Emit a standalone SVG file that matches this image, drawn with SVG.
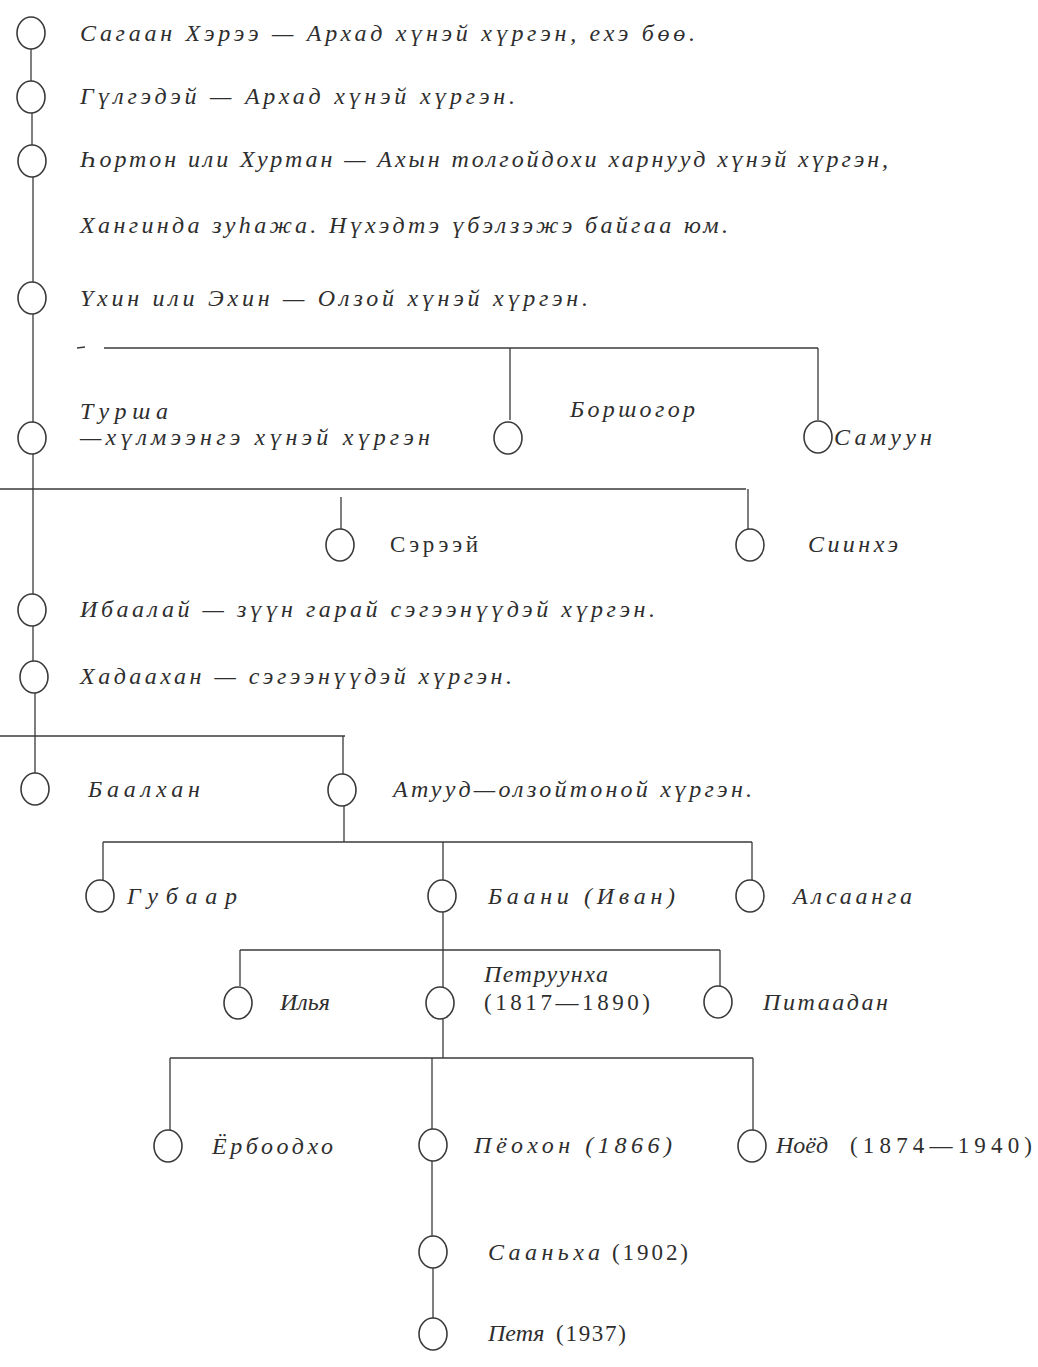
<svg xmlns="http://www.w3.org/2000/svg" width="1038" height="1367" viewBox="0 0 1038 1367">
<style>
.bg{fill:#ffffff}
.n{fill:none;stroke:#3a3a3a;stroke-width:1.6}
.c{fill:none;stroke:#3a3a3a;stroke-width:1.3}
.t{font-family:"Liberation Serif","DejaVu Serif",serif;font-style:italic;font-size:24px;fill:#2e2e2e}
.u{font-family:"Liberation Serif","DejaVu Serif",serif;font-style:normal;font-size:23px;fill:#2e2e2e}
</style>
<rect class="bg" x="0" y="0" width="1038" height="1367"/>
<g id="connectors">
<line class="c" x1="31" y1="49" x2="31" y2="81"/>
<line class="c" x1="32" y1="113" x2="32" y2="145"/>
<line class="c" x1="33" y1="177" x2="33" y2="282"/>
<line class="c" x1="33" y1="314" x2="33" y2="422"/>
<line class="c" x1="77" y1="348" x2="85" y2="347"/>
<line class="c" x1="104" y1="348" x2="818" y2="348"/>
<line class="c" x1="510" y1="348" x2="510" y2="420"/>
<line class="c" x1="818" y1="348" x2="818" y2="420"/>
<line class="c" x1="33" y1="454" x2="33" y2="594"/>
<line class="c" x1="0" y1="489" x2="746" y2="489"/>
<line class="c" x1="341" y1="497" x2="341" y2="529"/>
<line class="c" x1="748" y1="489" x2="748" y2="529"/>
<line class="c" x1="33" y1="626" x2="33" y2="661"/>
<line class="c" x1="35" y1="693" x2="35" y2="773"/>
<line class="c" x1="0" y1="736" x2="345" y2="736"/>
<line class="c" x1="343" y1="736" x2="343" y2="774"/>
<line class="c" x1="344" y1="806" x2="344" y2="842"/>
<line class="c" x1="103" y1="842" x2="752" y2="842"/>
<line class="c" x1="103" y1="842" x2="103" y2="880"/>
<line class="c" x1="443" y1="842" x2="443" y2="880"/>
<line class="c" x1="752" y1="842" x2="752" y2="880"/>
<line class="c" x1="443" y1="912" x2="443" y2="950"/>
<line class="c" x1="240" y1="950" x2="720" y2="950"/>
<line class="c" x1="240" y1="950" x2="240" y2="986"/>
<line class="c" x1="443" y1="950" x2="443" y2="987"/>
<line class="c" x1="720" y1="950" x2="720" y2="986"/>
<line class="c" x1="443" y1="1019" x2="443" y2="1058"/>
<line class="c" x1="170" y1="1058" x2="753" y2="1058"/>
<line class="c" x1="170" y1="1058" x2="170" y2="1130"/>
<line class="c" x1="432" y1="1058" x2="432" y2="1129"/>
<line class="c" x1="753" y1="1058" x2="753" y2="1130"/>
<line class="c" x1="432" y1="1161" x2="432" y2="1236"/>
<line class="c" x1="433" y1="1268" x2="433" y2="1318"/>
</g>
<g id="n1"><ellipse class="n" cx="31" cy="33" rx="14" ry="16"/><text class="t" x="80" y="41" textLength="615">Сагаан Хэрээ — Архад хүнэй хүргэн, ехэ бөө.</text></g>
<g id="n2"><ellipse class="n" cx="31" cy="97" rx="14" ry="16"/><text class="t" x="80" y="104" textLength="435">Гүлгэдэй — Архад хүнэй хүргэн.</text></g>
<g id="n3"><ellipse class="n" cx="32" cy="161" rx="14" ry="16"/><text class="t" x="80" y="167" textLength="808">Һортон или Хуртан — Ахын толгойдохи харнууд хүнэй хүргэн,</text><text class="t" x="80" y="233" textLength="648">Хангинда зуһажа. Нүхэдтэ үбэлзэжэ байгаа юм.</text></g>
<g id="n4"><ellipse class="n" cx="32" cy="298" rx="14" ry="16"/><text class="t" x="80" y="306" textLength="508">Үхин или Эхин — Олзой хүнэй хүргэн.</text></g>
<g id="n5"><ellipse class="n" cx="32" cy="438" rx="14" ry="16"/><text class="t" x="80" y="419" textLength="88">Турша</text><text class="t" x="80" y="445" textLength="350">—хүлмээнгэ хүнэй хүргэн</text></g>
<g id="n6"><ellipse class="n" cx="508" cy="438" rx="14" ry="16"/><text class="t" x="570" y="417" textLength="125">Боршогор</text></g>
<g id="n7"><ellipse class="n" cx="818" cy="437" rx="14" ry="16"/><text class="t" x="834" y="445" textLength="98">Самуун</text></g>
<g id="n8"><ellipse class="n" cx="340" cy="545" rx="14" ry="16"/><text class="u" x="390" y="552" textLength="88" fill="#555">Сэрээй</text></g>
<g id="n9"><ellipse class="n" cx="750" cy="545" rx="14" ry="16"/><text class="t" x="808" y="552" textLength="90">Сиинхэ</text></g>
<g id="n10"><ellipse class="n" cx="32" cy="610" rx="14" ry="16"/><text class="t" x="80" y="617" textLength="575">Ибаалай — зүүн гарай сэгээнүүдэй хүргэн.</text></g>
<g id="n11"><ellipse class="n" cx="34" cy="677" rx="14" ry="16"/><text class="t" x="80" y="684" textLength="432">Хадаахан — сэгээнүүдэй хүргэн.</text></g>
<g id="n12"><ellipse class="n" cx="35" cy="789" rx="14" ry="16"/><text class="t" x="88" y="797" textLength="112">Баалхан</text></g>
<g id="n13"><ellipse class="n" cx="342" cy="790" rx="14" ry="16"/><text class="t" x="393" y="797" textLength="359">Атууд—олзойтоной хүргэн.</text></g>
<g id="n14"><ellipse class="n" cx="100" cy="896" rx="14" ry="16"/><text class="t" x="127" y="904" textLength="110">Губаар</text></g>
<g id="n15"><ellipse class="n" cx="442" cy="896" rx="14" ry="16"/><text class="t" x="488" y="904" textLength="187">Баани (Иван)</text></g>
<g id="n16"><ellipse class="n" cx="750" cy="896" rx="14" ry="16"/><text class="t" x="793" y="904" textLength="119">Алсаанга</text></g>
<g id="n17"><ellipse class="n" cx="238" cy="1003" rx="14" ry="16"/><text class="t" x="280" y="1010">Илья</text></g>
<g id="n18"><ellipse class="n" cx="440" cy="1003" rx="14" ry="16"/><text class="t" x="484" y="982" textLength="124">Петруунха</text><text class="u" x="484" y="1010" textLength="166">(1817—1890)</text></g>
<g id="n19"><ellipse class="n" cx="718" cy="1002" rx="14" ry="16"/><text class="t" x="763" y="1010" textLength="125">Питаадан</text></g>
<g id="n20"><ellipse class="n" cx="168" cy="1146" rx="14" ry="16"/><text class="t" x="212" y="1154" textLength="121">Ёрбоодхо</text></g>
<g id="n21"><ellipse class="n" cx="433" cy="1145" rx="14" ry="16"/><text class="t" x="474" y="1153" textLength="198">Пёохон (1866)</text></g>
<g id="n22"><ellipse class="n" cx="752" cy="1146" rx="14" ry="16"/><text class="t" x="776" y="1153">Ноёд</text><text class="u" x="850" y="1153" textLength="182">(1874—1940)</text></g>
<g id="n23"><ellipse class="n" cx="433" cy="1252" rx="14" ry="16"/><text class="t" x="488" y="1260" textLength="112">Сааньха</text><text class="u" x="612" y="1260" textLength="76">(1902)</text></g>
<g id="n24"><ellipse class="n" cx="433" cy="1334" rx="14" ry="16"/><text class="t" x="488" y="1341">Петя</text><text class="u" x="556" y="1341" textLength="70">(1937)</text></g>
</svg>
